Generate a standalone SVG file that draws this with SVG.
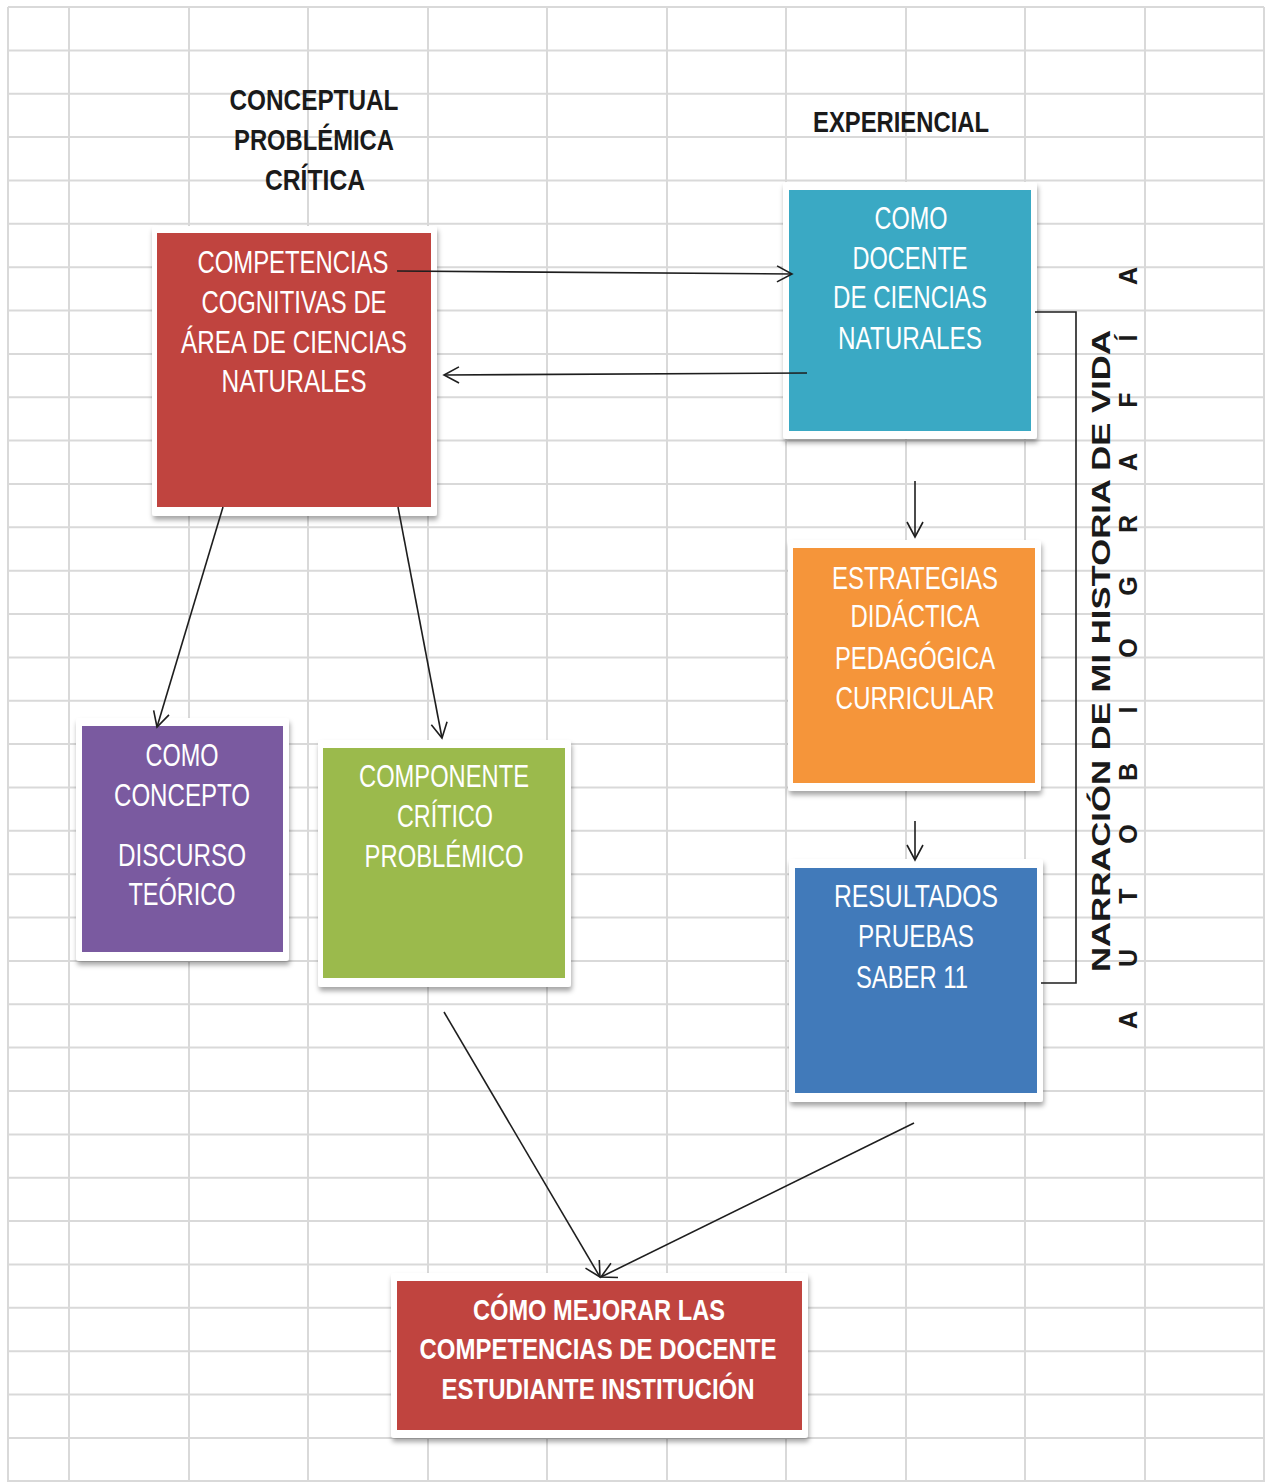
<svg xmlns="http://www.w3.org/2000/svg" width="1266" height="1482" viewBox="0 0 1266 1482">
<defs>
<style>
.grid{fill:none;stroke:#d9d9d9;stroke-width:2}
.frame{fill:#ffffff;filter:url(#sh)}
.bt{font-family:"Liberation Sans Narrow","Liberation Sans",Arial,sans-serif;font-size:32px;fill:#ffffff;text-anchor:middle}
.bb{font-family:"Liberation Sans Narrow","Liberation Sans",Arial,sans-serif;font-size:30px;font-weight:bold;fill:#ffffff;text-anchor:middle}
.hd{font-family:"Liberation Sans Narrow","Liberation Sans",Arial,sans-serif;font-size:30px;font-weight:bold;fill:#1a1a1a;text-anchor:middle}
.vt{font-family:"Liberation Sans",Arial,sans-serif;font-size:25px;font-weight:bold;fill:#1a1a1a;text-anchor:middle}
.con{fill:none;stroke:#1e1e1e;stroke-width:1.6;marker-end:url(#arr)}
.br{fill:none;stroke:#1e1e1e;stroke-width:1.6}
</style>
<filter id="sh" x="-10%" y="-10%" width="120%" height="125%">
<feDropShadow dx="1" dy="4" stdDeviation="2.5" flood-color="#000000" flood-opacity="0.35"/>
</filter>
<marker id="arr" viewBox="-20 -12 24 24" markerWidth="24" markerHeight="24" refX="0" refY="0" orient="auto" markerUnits="userSpaceOnUse">
<path d="M-15,-8 L0,0 L-15,8" fill="none" stroke="#1e1e1e" stroke-width="1.6"/>
</marker>
</defs>
<rect width="1266" height="1482" fill="#ffffff"/>
<path class="grid" d="M8,7V1482M69,7V1482M189,7V1482M308,7V1482M428,7V1482M547,7V1482M667,7V1482M786,7V1482M906,7V1482M1025,7V1482M1145,7V1482M1264,7V1482
M8,7H1264M8,50.4H1264M8,93.7H1264M8,137.1H1264M8,180.4H1264M8,223.8H1264M8,267.2H1264M8,310.5H1264M8,353.9H1264M8,397.2H1264M8,440.6H1264M8,484H1264M8,527.3H1264M8,570.7H1264M8,614H1264M8,657.4H1264M8,700.8H1264M8,744.1H1264M8,787.5H1264M8,830.8H1264M8,874.2H1264M8,917.6H1264M8,960.9H1264M8,1004.3H1264M8,1047.6H1264M8,1091H1264M8,1134.4H1264M8,1177.7H1264M8,1221.1H1264M8,1264.4H1264M8,1307.8H1264M8,1351.2H1264M8,1394.5H1264M8,1437.9H1264M8,1481H1264"/>

<g id="heading-conceptual">
<text class="hd" x="314" y="110" textLength="169" lengthAdjust="spacingAndGlyphs">CONCEPTUAL</text>
<text class="hd" x="314" y="150" textLength="160" lengthAdjust="spacingAndGlyphs">PROBLÉMICA</text>
<text class="hd" x="315" y="190" textLength="100" lengthAdjust="spacingAndGlyphs">CRÍTICA</text>
</g>
<g id="heading-experiencial">
<text class="hd" x="901" y="132" textLength="176" lengthAdjust="spacingAndGlyphs">EXPERIENCIAL</text>
</g>

<g id="node-competencias">
<rect class="frame" x="152" y="226" width="285" height="290" rx="3"/>
<rect x="157" y="233" width="274" height="274" fill="#c0443f"/>
<text class="bt" x="293" y="273" textLength="191" lengthAdjust="spacingAndGlyphs">COMPETENCIAS</text>
<text class="bt" x="294" y="313" textLength="185" lengthAdjust="spacingAndGlyphs">COGNITIVAS DE</text>
<text class="bt" x="294" y="353" textLength="226" lengthAdjust="spacingAndGlyphs">ÁREA DE CIENCIAS</text>
<text class="bt" x="294" y="392" textLength="145" lengthAdjust="spacingAndGlyphs">NATURALES</text>
</g>

<g id="node-docente">
<rect class="frame" x="783" y="182" width="254" height="257" rx="3"/>
<rect x="789" y="190" width="242" height="241" fill="#3aa9c4"/>
<text class="bt" x="911" y="229" textLength="73" lengthAdjust="spacingAndGlyphs">COMO</text>
<text class="bt" x="910" y="269" textLength="115" lengthAdjust="spacingAndGlyphs">DOCENTE</text>
<text class="bt" x="910" y="308" textLength="154" lengthAdjust="spacingAndGlyphs">DE CIENCIAS</text>
<text class="bt" x="910" y="349" textLength="144" lengthAdjust="spacingAndGlyphs">NATURALES</text>
</g>

<g id="node-estrategias">
<rect class="frame" x="788" y="540" width="253" height="251" rx="3"/>
<rect x="793" y="548" width="242" height="235" fill="#f5953a"/>
<text class="bt" x="915" y="589" textLength="166" lengthAdjust="spacingAndGlyphs">ESTRATEGIAS</text>
<text class="bt" x="915" y="627" textLength="129" lengthAdjust="spacingAndGlyphs">DIDÁCTICA</text>
<text class="bt" x="915" y="669" textLength="160" lengthAdjust="spacingAndGlyphs">PEDAGÓGICA</text>
<text class="bt" x="915" y="709" textLength="159" lengthAdjust="spacingAndGlyphs">CURRICULAR</text>
</g>

<g id="node-resultados">
<rect class="frame" x="789" y="859" width="254" height="243" rx="3"/>
<rect x="795" y="868" width="242" height="225" fill="#417aba"/>
<text class="bt" x="916" y="907" textLength="164" lengthAdjust="spacingAndGlyphs">RESULTADOS</text>
<text class="bt" x="916" y="947" textLength="116" lengthAdjust="spacingAndGlyphs">PRUEBAS</text>
<text class="bt" x="912" y="988" textLength="112" lengthAdjust="spacingAndGlyphs">SABER 11</text>
</g>

<g id="node-concepto">
<rect class="frame" x="76" y="718" width="213" height="243" rx="3"/>
<rect x="82" y="726" width="201" height="226" fill="#7a5aa0"/>
<text class="bt" x="182" y="766" textLength="73" lengthAdjust="spacingAndGlyphs">COMO</text>
<text class="bt" x="182" y="806" textLength="136" lengthAdjust="spacingAndGlyphs">CONCEPTO</text>
<text class="bt" x="182" y="866" textLength="128" lengthAdjust="spacingAndGlyphs">DISCURSO</text>
<text class="bt" x="182" y="905" textLength="107" lengthAdjust="spacingAndGlyphs">TEÓRICO</text>
</g>

<g id="node-componente">
<rect class="frame" x="318" y="740" width="253" height="247" rx="3"/>
<rect x="323" y="748" width="242" height="230" fill="#9bba4c"/>
<text class="bt" x="444" y="787" textLength="170" lengthAdjust="spacingAndGlyphs">COMPONENTE</text>
<text class="bt" x="445" y="827" textLength="96" lengthAdjust="spacingAndGlyphs">CRÍTICO</text>
<text class="bt" x="444" y="867" textLength="159" lengthAdjust="spacingAndGlyphs">PROBLÉMICO</text>
</g>

<g id="node-mejorar">
<rect class="frame" x="391" y="1273" width="417" height="165" rx="3"/>
<rect x="397" y="1281" width="405" height="149" fill="#c0443f"/>
<text class="bb" x="599" y="1320" textLength="252" lengthAdjust="spacingAndGlyphs">CÓMO MEJORAR LAS</text>
<text class="bb" x="598" y="1359" textLength="357" lengthAdjust="spacingAndGlyphs">COMPETENCIAS DE DOCENTE</text>
<text class="bb" x="598" y="1399" textLength="313" lengthAdjust="spacingAndGlyphs">ESTUDIANTE INSTITUCIÓN</text>
</g>

<g id="label-narracion">
<text class="vt" transform="translate(1110,651) rotate(-90)" x="0" y="0" textLength="642" lengthAdjust="spacingAndGlyphs">NARRACIÓN DE MI HISTORIA DE VIDA</text>
<text class="vt" transform="translate(1137,0) rotate(-90)" y="0" x="-1020 -958 -896 -834 -772 -710 -648 -586 -524 -462 -400 -338 -276">AUTOBIOGRAFÍA</text>
</g>

<g id="connectors">
<path class="con" d="M397,271 L792,274"/>
<path class="con" d="M807,373 L444,375"/>
<path class="con" d="M915,481 L915,537"/>
<path class="con" d="M915,821 L915,860"/>
<path class="con" d="M223,507 L157,727"/>
<path class="con" d="M398,507 L442,738"/>
<path class="con" d="M444,1012 L600,1277"/>
<path class="con" d="M914,1123 L601,1277"/>
<path class="br" d="M1035,312 H1076 V983 H1041"/>
</g>
</svg>
